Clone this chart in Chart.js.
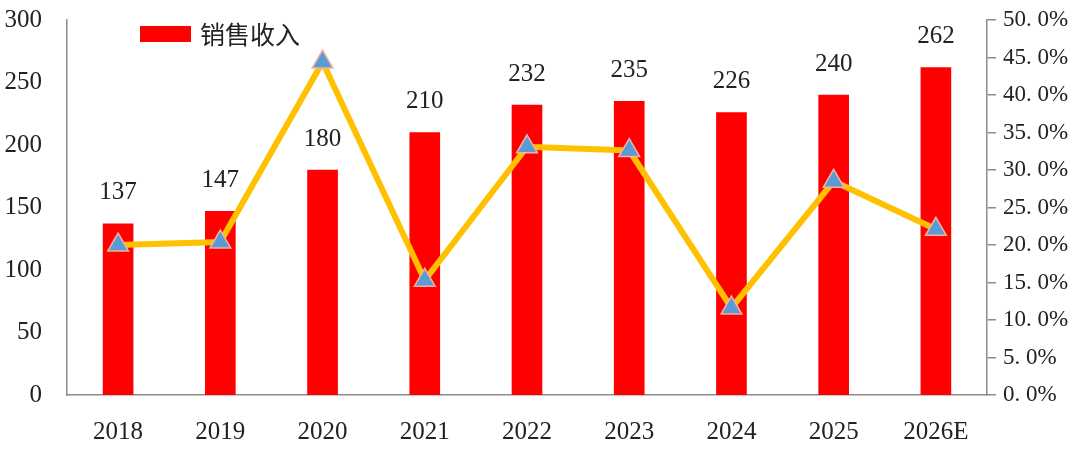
<!DOCTYPE html>
<html lang="zh">
<head>
  <meta charset="UTF-8" />
  <title>销售收入</title>
  <style>
    body { margin: 0; background: #fff; }
    #wrap { width: 1080px; height: 454px; }
  </style>
</head>
<body>
  <div id="wrap"><canvas id="c" width="1080" height="454"></canvas></div>

  <script src="https://cdn.jsdelivr.net/npm/chart.js"></script>
  <script>
    const years = ['2018', '2019', '2020', '2021', '2022', '2023', '2024', '2025', '2026E'];
    const revenue = [137, 147, 180, 210, 232, 235, 226, 240, 262];
    const ratePct = [20.0, 20.4, 44.4, 15.3, 33.1, 32.6, 11.6, 28.5, 22.1];
    const leftTicks = [0, 50, 100, 150, 200, 250, 300];
    const rightTicks = [0, 5, 10, 15, 20, 25, 30, 35, 40, 45, 50];

    const serif = '"Liberation Serif", "DejaVu Serif", serif';
    const axisGrey = '#8c8c8c';

    // labels above bars + legend drawn inside the plot
    const extras = {
      id: 'extras',
      afterDatasetsDraw(chart) {
        const c = chart.ctx;
        const meta = chart.getDatasetMeta(1);
        c.save();
        c.font = '25px ' + serif;
        c.fillStyle = '#222';
        c.textAlign = 'center';
        c.textBaseline = 'middle';
        meta.data.forEach((bar, i) => {
          c.fillText(String(revenue[i]), bar.x, bar.y - 31);
        });
        c.fillStyle = '#ff0000';
        c.fillRect(140, 26, 51, 16);
        c.fillStyle = '#222';
        c.textAlign = 'left';
        c.font = '25px "Noto Sans CJK SC", sans-serif';
        c.fillText('销售收入', 200, 34);
        c.restore();
      }
    };

    const noPad = s => { s.paddingTop = 0; s.paddingBottom = 0; };

    new Chart(document.getElementById('c'), {
      data: {
        labels: years,
        datasets: [
          {
            type: 'line',
            label: '比率',
            data: ratePct,
            yAxisID: 'y1',
            borderColor: '#ffc000',
            borderWidth: 6,
            pointStyle: 'triangle',
            pointRadius: 12,
            pointBackgroundColor: '#5b9bd5',
            pointBorderColor: '#f4b0a0',
            pointBorderWidth: 1.5,
            tension: 0,
            order: 0
          },
          {
            type: 'bar',
            label: '销售收入',
            data: revenue,
            yAxisID: 'y',
            backgroundColor: '#ff0000',
            barThickness: 30,
            order: 1
          }
        ]
      },
      options: {
        responsive: false,
        animation: false,
        layout: { padding: { top: 20, left: 0, right: 0, bottom: 0 } },
        plugins: {
          legend: { display: false },
          tooltip: { enabled: false }
        },
        scales: {
          x: {
            grid: { display: false },
            border: { display: true, color: axisGrey, width: 1.5 },
            ticks: { color: '#222', font: { family: serif, size: 25 }, padding: 14, maxRotation: 0 },
            afterFit: s => { s.height = 59; s.paddingLeft = 0; s.paddingRight = 0; }
          },
          y: {
            position: 'left',
            min: 0,
            max: 300,
            afterBuildTicks: s => { s.ticks = leftTicks.map(v => ({ value: v })); },
            grid: { display: false },
            border: { display: true, color: axisGrey, width: 1.5 },
            ticks: { color: '#222', font: { family: serif, size: 25 }, padding: 17 },
            afterFit: s => { s.width = 67; noPad(s); }
          },
          y1: {
            position: 'right',
            min: 0,
            max: 50,
            afterBuildTicks: s => { s.ticks = rightTicks.map(v => ({ value: v })); },
            grid: { drawOnChartArea: false, drawTicks: true, tickLength: 9, color: axisGrey, lineWidth: 1.5 },
            border: { display: true, color: axisGrey, width: 1.5 },
            ticks: {
              color: '#222',
              font: { family: serif, size: 23 },
              padding: 7,
              callback: v => v.toFixed(1).replace('.', '. ') + '%'
            },
            afterFit: s => { s.width = 93; noPad(s); }
          }
        }
      },
      plugins: [extras]
    });
  </script>
</body>
</html>
